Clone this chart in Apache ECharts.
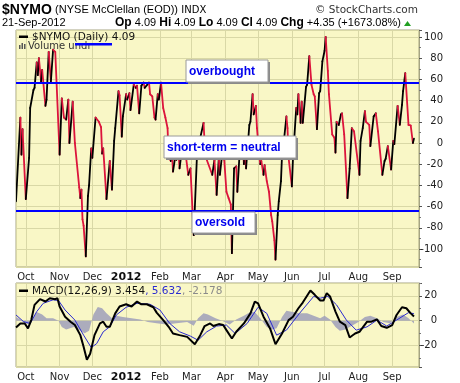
<!DOCTYPE html>
<html><head><meta charset="utf-8">
<script src="https://cdn.jsdelivr.net/npm/echarts@6/dist/echarts.min.js"></script>
<style>html,body{margin:0;padding:0;background:#fff}#c{width:460px;height:383px}</style>
</head><body><div id="c"></div><script>
// ---------- DATA ----------
const nymoDates = ['2011-09-22','2011-09-26','2011-09-27','2011-09-28','2011-10-01','2011-10-04','2011-10-05','2011-10-08','2011-10-09','2011-10-11','2011-10-12','2011-10-13','2011-10-15','2011-10-16','2011-10-19','2011-10-20','2011-10-22','2011-10-24','2011-10-26','2011-10-28',
'2011-11-01','2011-11-03','2011-11-05','2011-11-07','2011-11-09','2011-11-10','2011-11-13','2011-11-15','2011-11-19','2011-11-20','2011-11-21','2011-11-22','2011-11-23','2011-11-25','2011-11-27','2011-11-28','2011-11-30',
'2011-12-01','2011-12-04','2011-12-07','2011-12-09','2011-12-10','2011-12-11','2011-12-14','2011-12-17','2011-12-19','2011-12-21','2011-12-22','2011-12-25','2011-12-26','2011-12-28','2011-12-29',
'2012-01-01','2012-01-02','2012-01-04','2012-01-05','2012-01-08','2012-01-10','2012-01-11','2012-01-13','2012-01-15','2012-01-17','2012-01-18','2012-01-22','2012-01-23','2012-01-25','2012-01-27','2012-01-28','2012-01-30','2012-01-31',
'2012-02-02','2012-02-04','2012-02-06','2012-02-08','2012-02-09','2012-02-11','2012-02-12','2012-02-13','2012-02-15','2012-02-16','2012-02-18','2012-02-19','2012-02-21','2012-02-23','2012-02-25','2012-02-27','2012-02-29',
'2012-03-03','2012-03-06','2012-03-09','2012-03-12','2012-03-13','2012-03-15','2012-03-20','2012-03-22','2012-03-24','2012-03-26','2012-03-27','2012-03-29','2012-03-31',
'2012-04-02','2012-04-04','2012-04-06','2012-04-07','2012-04-09','2012-04-11','2012-04-12','2012-04-14','2012-04-15','2012-04-17','2012-04-18','2012-04-19','2012-04-20','2012-04-23','2012-04-24','2012-04-26','2012-04-27','2012-04-29','2012-04-30',
'2012-05-02','2012-05-03','2012-05-04','2012-05-06','2012-05-07','2012-05-09','2012-05-11','2012-05-13','2012-05-14','2012-05-16','2012-05-17','2012-05-19','2012-05-20','2012-05-22','2012-05-23','2012-05-25','2012-05-27','2012-05-28','2012-05-29',
'2012-06-01','2012-06-02','2012-06-05','2012-06-06','2012-06-07','2012-06-09','2012-06-10','2012-06-11','2012-06-14','2012-06-15','2012-06-17','2012-06-19','2012-06-21','2012-06-22','2012-06-24','2012-06-26','2012-06-27','2012-06-29',
'2012-07-01','2012-07-02','2012-07-04','2012-07-05','2012-07-08','2012-07-10','2012-07-11','2012-07-12','2012-07-14','2012-07-16','2012-07-17','2012-07-19','2012-07-22','2012-07-24','2012-07-26','2012-07-28',
'2012-08-02','2012-08-03','2012-08-05','2012-08-07','2012-08-08','2012-08-11','2012-08-12','2012-08-15','2012-08-17','2012-08-19','2012-08-23','2012-08-25','2012-08-26','2012-08-28','2012-08-31',
'2012-09-02','2012-09-03','2012-09-06','2012-09-08','2012-09-10','2012-09-11','2012-09-13','2012-09-16','2012-09-18','2012-09-20','2012-09-21'];
const nymoValues = [-55,24,-11,13,-53,-14,33,50,52,76,64,80,58,69,35,41,86,58,88,86,
-11,42,24,22,41,0,39,0,-42,-52,-44,-72,-78,-107,-50,-40,-5,
-14,24,20,15,-10,-5,-53,-17,-44,2,14,49,45,6,25,
46,41,47,31,55,52,54,28,54,57,52,57,46,44,24,22,46,41,
57,33,24,14,-14,-17,-8,-27,-13,-16,-8,-24,-8,-11,-14,-30,-24,
-87,-11,5,19,0,-16,-30,-16,-49,-14,-30,-11,-16,
-46,-52,-58,-104,-24,-22,-46,-11,-8,-2,-20,-6,-24,17,20,46,27,35,14,
-11,-20,-17,-30,-21,-36,-46,-68,-74,-92,-110,-68,-55,-36,-11,5,25,14,-14,
-41,-15,33,27,46,19,39,19,53,55,82,55,46,44,13,47,49,77,
87,100,68,46,8,5,-9,20,17,27,28,8,-52,-24,14,11,
-30,2,14,30,20,17,-3,25,28,11,-30,-17,-15,-3,-25,
2,-1,35,17,36,49,66,17,16.5,0,4.09];

const macdDates = ['2011-09-22','2011-09-26','2011-09-30','2011-10-03','2011-10-06','2011-10-09','2011-10-14','2011-10-19','2011-10-23','2011-10-28','2011-10-30',
'2011-11-01','2011-11-06','2011-11-11','2011-11-15','2011-11-20','2011-11-23','2011-11-26','2011-11-29','2011-12-03','2011-12-08','2011-12-11','2011-12-14','2011-12-17','2011-12-22','2011-12-26',
'2012-01-01','2012-01-06','2012-01-11','2012-01-15','2012-01-20','2012-01-26','2012-01-29','2012-02-04','2012-02-09','2012-02-13','2012-02-19','2012-02-26',
'2012-03-04','2012-03-09','2012-03-13','2012-03-18','2012-03-21','2012-03-26','2012-03-30','2012-04-02','2012-04-07','2012-04-11','2012-04-18','2012-04-24','2012-04-28',
'2012-05-01','2012-05-06','2012-05-12','2012-05-17','2012-05-23','2012-05-29','2012-06-02','2012-06-07','2012-06-11','2012-06-18','2012-06-22','2012-06-27','2012-06-30',
'2012-07-03','2012-07-06','2012-07-11','2012-07-15','2012-07-20','2012-07-24','2012-07-29','2012-08-02','2012-08-09','2012-08-13','2012-08-18','2012-08-22','2012-08-27',
'2012-09-01','2012-09-05','2012-09-10','2012-09-14','2012-09-18','2012-09-21'];
const macdValues = [-5.4,-2.2,-2.2,-6.2,0.5,12.7,17.3,15.4,18.1,17.3,18.1,
11.4,3.2,-0.8,-3.5,-11.6,-21,-31.4,-26.5,-11.6,-2.2,-0.8,-4.9,-4.9,5.9,11.4,
13.2,11.4,15.4,13.2,13.2,10.8,6.5,0.5,-4.9,-10.3,-11.6,-13,
-18.9,-11.6,-4.3,-2.2,-4.3,-2.7,-3.5,-7.6,-14.3,-8.9,-2.2,5.9,15.4,
14,3.2,-6.2,-18.9,-10.3,0.5,3.2,10,14.6,24.3,20.8,16.2,16.2,
22.2,19.5,7.3,-0.8,-3.5,-13.5,-10.3,-8.9,-0.8,-0.8,1.1,-4.3,-5.7,
-3.5,4.6,10.8,10,5.9,3.454];

const signalDates = ['2011-09-22','2011-09-29','2011-10-05','2011-10-11','2011-10-17','2011-10-26','2011-10-31','2011-11-06','2011-11-15','2011-11-23','2011-11-30',
'2011-12-05','2011-12-11','2011-12-17','2011-12-23','2012-01-01','2012-01-11','2012-01-23','2012-02-01','2012-02-10','2012-02-19','2012-02-29',
'2012-03-07','2012-03-15','2012-03-24','2012-04-02','2012-04-10','2012-04-21','2012-05-01','2012-05-09','2012-05-18','2012-05-27','2012-06-08','2012-06-21','2012-06-27',
'2012-07-04','2012-07-12','2012-07-21','2012-07-30','2012-08-09','2012-08-18','2012-08-27','2012-09-05','2012-09-16','2012-09-21'];
const signalValues = [4.6,-0.8,-2.2,7.3,14,16.8,16.2,8.6,0.5,-11.6,-21.6,
-18.4,-8.9,-4.9,4.6,10.8,14,13.2,8.6,-2.2,-8.9,-12.4,
-15.7,-8.9,-4.3,-3.5,-10.3,-2.2,10.8,5.9,-11.6,-7.6,5.9,19.5,18.1,
19.5,12.7,0.5,-7.6,-4.9,0.5,-4.3,0.5,6.5,5.632];

const histDates = ['2011-09-22','2011-09-26','2011-09-30','2011-10-05','2011-10-08','2011-10-11','2011-10-16','2011-10-20','2011-10-26','2011-10-31',
'2011-11-03','2011-11-07','2011-11-14','2011-11-20','2011-11-24','2011-11-28','2011-12-02','2011-12-06','2011-12-10','2011-12-14','2011-12-19','2011-12-23','2011-12-29',
'2012-01-06','2012-01-14','2012-01-21','2012-01-29','2012-02-07','2012-02-16','2012-02-26','2012-03-03','2012-03-07','2012-03-12','2012-03-16','2012-03-23','2012-03-29',
'2012-04-05','2012-04-11','2012-04-18','2012-04-24','2012-04-28','2012-05-03','2012-05-09','2012-05-14','2012-05-18','2012-05-23','2012-05-27',
'2012-06-02','2012-06-08','2012-06-15','2012-06-21','2012-06-27','2012-07-01','2012-07-06','2012-07-11','2012-07-15','2012-07-20','2012-07-26',
'2012-08-01','2012-08-07','2012-08-12','2012-08-18','2012-08-24','2012-08-30','2012-09-05','2012-09-11','2012-09-16','2012-09-21'];
const histValues = [3,1,-2,-3,3,7,5,2,2,0,
-5,-7,-5,-8,-10,-8,5,11,10,6,2,4,3,
2,1,-1,-2,-3,-2,-1,-4,2,6,5,2,0,
-3,1,4,7,7,2,-5,-7,-6,3,8,
7,6,6,4,2,4,1,-5,-8,-7,-4,
-1,3,4,2,-1,-2,3,5,2,-2.178];

const overboughtLevel = 56.5;
const oversoldLevel = -64;
const monthNames = ['Jan','Feb','Mar','Apr','May','Jun','Jul','Aug','Sep','Oct','Nov','Dec'];
const annotationTexts = ['overbought','short-term = neutral','oversold'];

// ---------- helpers ----------
function ts(s){const p=s.split('-').map(Number);return new Date(p[0],p[1]-1,p[2]).getTime();}
const DAY = 86400000;
const xMin = ts('2011-09-22');
const xMax = xMin + 369.6*DAY;
const pairs = (d,v)=>d.map((s,i)=>[ts(s),v[i]]);
const nymoData = pairs(nymoDates,nymoValues);

const FONT = 'DejaVu Sans';
const gridColor = '#D9D8A6';
const borderColor = '#A6A582';
function monthLabel(v){const d=new Date(v);return d.getMonth()===0?('{b|'+d.getFullYear()+'}'):monthNames[d.getMonth()];}
function xAxisCfg(gi){return {type:'time',gridIndex:gi,min:xMin,max:xMax,splitNumber:12,
  minInterval:28*DAY,maxInterval:31*DAY,
  axisLine:{show:false},axisTick:{show:false},
  axisLabel:{formatter:monthLabel,color:'#222',fontSize:10,fontFamily:FONT,margin:5,hideOverlap:false,
    showMinLabel:false,showMaxLabel:false,
    rich:{b:{fontWeight:'bold',fontSize:11,color:'#111',fontFamily:FONT}}},
  splitLine:{show:true,lineStyle:{color:gridColor,width:1}}};}
function yAxisCfg(gi,min,max,split,margin){return {type:'value',gridIndex:gi,position:'right',min:min,max:max,splitNumber:split,
  axisLine:{show:true,lineStyle:{color:borderColor}},
  axisTick:{show:true,length:3,lineStyle:{color:'#555'}},
  minorTick:{show:true,splitNumber:2,length:2,lineStyle:{color:'#777'}},
  axisLabel:{align:'right',margin:margin,showMinLabel:false,showMaxLabel:false,color:'#222',fontSize:10,fontFamily:FONT},
  splitLine:{show:true,lineStyle:{color:gridColor,width:1}}};}

const chart = echarts.init(document.getElementById('c'),null,{renderer:'canvas'});

function box(x,y,w,h,text){
  return {type:'group',z:100,children:[
    {type:'rect',z:100,shape:{x:x+2,y:y+2,width:w,height:h},style:{fill:'#8a8a8a'}},
    {type:'rect',z:101,shape:{x:x,y:y,width:w,height:h},style:{fill:'#fff',stroke:'#9a9a9a',lineWidth:1}},
    {type:'text',z:102,style:{text:text,x:x+3,y:y+h/2+0.5,textVerticalAlign:'middle',fill:'#0000EE',fontSize:12,fontWeight:'bold',fontFamily:'Liberation Sans'}}
  ]};
}

const option = {
  animation:false,
  backgroundColor:'#fff',
  grid:[
    {left:16,top:30,width:403,height:237,show:true,backgroundColor:'#F9F7C6',borderColor:borderColor,borderWidth:1},
    {left:16,top:283,width:403,height:84,show:true,backgroundColor:'#F9F7C6',borderColor:borderColor,borderWidth:1}
  ],
  xAxis:[xAxisCfg(0),xAxisCfg(1)],
  yAxis:[yAxisCfg(0,-117,106.6,11,24),yAxisCfg(1,-37.2,30.3,3,18)],
  series:[
    {type:'custom',xAxisIndex:0,yAxisIndex:0,data:nymoData,clip:true,z:3,
     encode:{x:0,y:1},
     renderItem:function(params,api){
       const i=params.dataIndex; if(i===0) return null;
       const p0=api.coord(nymoData[i-1]);
       const p1=api.coord([api.value(0),api.value(1)]);
       const up=nymoValues[i]>=nymoValues[i-1];
       return {type:'line',shape:{x1:p0[0],y1:p0[1],x2:p1[0],y2:p1[1]},
         style:{stroke:up?'#000000':'#DC143C',lineWidth:1.8,lineCap:'round'}};
     },
     markLine:{silent:true,symbol:'none',label:{show:false},z:5,
       lineStyle:{color:'#0000FF',width:2.2,type:'solid'},
       data:[{yAxis:overboughtLevel},{yAxis:oversoldLevel}]}
    },
    {type:'line',xAxisIndex:1,yAxisIndex:1,data:pairs(histDates,histValues),symbol:'none',
     lineStyle:{width:0},areaStyle:{color:'#A3A3BA',opacity:0.9},z:2},
    {type:'line',xAxisIndex:1,yAxisIndex:1,data:pairs(signalDates,signalValues),symbol:'none',
     lineStyle:{width:1,color:'#2B2BD0'},z:3},
    {type:'line',xAxisIndex:1,yAxisIndex:1,data:pairs(macdDates,macdValues),symbol:'none',
     lineStyle:{width:2,color:'#000'},z:4}
  ],
  graphic:[
    {type:'text',z:50,style:{x:2,y:10,textVerticalAlign:'middle',text:'{a|$NYMO} {b|(NYSE McClellan (EOD))} {c|INDX}',
      rich:{a:{fontSize:14,fontWeight:'bold',fontFamily:'Liberation Sans',fill:'#000'},
            b:{fontSize:11,fontFamily:'Liberation Sans',fill:'#000'},
            c:{fontSize:10,fontFamily:FONT,fill:'#000'}}}},
    {type:'text',z:50,style:{x:418,y:10,textAlign:'right',textVerticalAlign:'middle',text:'© StockCharts.com',fontSize:10.5,fontFamily:FONT,fill:'#333'}},
    {type:'text',z:50,style:{x:2,y:23,textVerticalAlign:'middle',text:'21-Sep-2012',fontSize:11,fontFamily:'Liberation Sans',fill:'#000'}},
    {type:'text',z:50,style:{x:401,y:23,textAlign:'right',textVerticalAlign:'middle',
      text:'{l|Op} 4.09 {l|Hi} 4.09 {l|Lo} 4.09 {l|Cl} 4.09 {l|Chg} +4.35 (+1673.08%)',
      fontSize:11,fontFamily:'Liberation Sans',fill:'#000',
      rich:{l:{fontSize:12,fontWeight:'bold',fontFamily:'Liberation Sans',fill:'#000'}}}},
    {type:'polygon',z:50,shape:{points:[[404,26],[411,26],[407.5,21]]},style:{fill:'#22A022'}},
    // legend main
    {type:'rect',z:50,shape:{x:19,y:35.5,width:9,height:2.5},style:{fill:'#000'}},
    {type:'text',z:50,style:{x:32,y:37,textVerticalAlign:'middle',text:'$NYMO (Daily) 4.09',fontSize:10.5,fontFamily:FONT,fill:'#111'}},
    {type:'rect',z:50,shape:{x:19,y:45,width:1.5,height:4},style:{fill:'#555'}},
    {type:'rect',z:50,shape:{x:21.5,y:43,width:1.5,height:6},style:{fill:'#555'}},
    {type:'rect',z:50,shape:{x:24,y:44,width:1.5,height:5},style:{fill:'#555'}},
    {type:'text',z:50,style:{x:28,y:46.5,textVerticalAlign:'middle',text:'Volume undr',fontSize:10,fontFamily:FONT,fill:'#333'}},
    {type:'rect',z:60,shape:{x:75,y:43,width:37,height:2.5},style:{fill:'#0000FF'}},
    // legend macd
    {type:'rect',z:50,shape:{x:19,y:289.5,width:9,height:2.5},style:{fill:'#000'}},
    {type:'text',z:50,style:{x:32,y:291,textVerticalAlign:'middle',
      text:'MACD(12,26,9) 3.454{s|, 5.632}{h|, -2.178}',fontSize:10.5,fontFamily:FONT,fill:'#111',
      rich:{s:{fontSize:10.5,fontFamily:FONT,fill:'#2B2BD0'},h:{fontSize:10.5,fontFamily:FONT,fill:'#8A8A8A'}}}},
    box(186,60,82,22,annotationTexts[0]),
    box(164,136,132,22,annotationTexts[1]),
    box(192,212,63,21,annotationTexts[2])
  ]
};
chart.setOption(option);
</script></body></html>
